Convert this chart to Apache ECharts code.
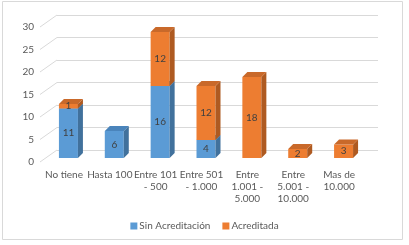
<!DOCTYPE html>
<html>
<head>
<meta charset="utf-8">
<script src="https://cdn.jsdelivr.net/npm/echarts@6/dist/echarts.min.js"></script>
<style>
  html, body { margin: 0; padding: 0; background: #fff; }
  #chart { width: 409px; height: 245px; }
</style>
</head>
<body>
<div id="chart"></div>
<script>
const categories = [
  "No tiene",
  "Hasta 100",
  "Entre 101\n- 500",
  "Entre 501\n- 1.000",
  "Entre\n1.001 -\n5.000",
  "Entre\n5.001 -\n10.000",
  "Mas de\n10.000",
];
const sinAcreditacion = [11, 6, 16, 4, 0, 0, 0];
const acreditada = [1, 0, 12, 12, 18, 2, 3];
const yTicks = [0, 5, 10, 15, 20, 25, 30];

const FONT = "Lato, 'Liberation Sans', sans-serif";
// 3d look: front face shifted left/down from the back wall
const DX = -21, W = 19, DY = 8, DEPTH = 5;

const barRenderer = (colors) => (params, api) => {
  const i = api.value(0);
  const base = api.value(1);
  const val = api.value(2);
  if (!val) return;
  const p0 = api.coord([i, base]);
  const p1 = api.coord([i, base + val]);
  const x0 = p0[0] + DX, x1 = x0 + W;
  const yb = p0[1] + DY, yt = p1[1] + DY;
  return {
    type: "group",
    children: [
      { type: "rect", shape: { x: x0, y: yt, width: W, height: yb - yt }, style: { fill: colors.front } },
      {
        type: "polygon",
        shape: { points: [[x1, yt], [x1 + DEPTH, yt - DEPTH], [x1 + DEPTH, yb - DEPTH], [x1, yb]] },
        style: { fill: colors.side },
      },
      {
        type: "polygon",
        shape: { points: [[x0, yt], [x1, yt], [x1 + DEPTH, yt - DEPTH], [x0 + DEPTH, yt - DEPTH]] },
        style: { fill: colors.top },
      },
      {
        type: "text",
        style: {
          text: String(val), x: (x0 + x1) / 2, y: (yt + yb) / 2,
          align: "center", verticalAlign: "middle", fill: "#404040", font: "10px " + FONT,
        },
      },
    ],
  };
};

const chart = echarts.init(document.getElementById("chart"));

chart.setOption({
  animation: false,
  graphic: [
    {
      type: "rect",
      shape: { x: 2.5, y: 1.5, width: 400, height: 238 },
      style: { fill: "none", stroke: "#d9d9d9", lineWidth: 1 },
      silent: true,
    },
  ],
  legend: {
    data: ["Sin Acreditación", "Acreditada"],
    top: 216,
    left: "center",
    icon: "rect",
    itemWidth: 7,
    itemHeight: 7,
    itemGap: 12,
    textStyle: { color: "#595959", fontSize: 10, fontFamily: FONT, padding: [0, 0, 0, -3] },
  },
  grid: [
    // back wall
    { left: 57, right: 31, top: 15, bottom: 95 },
    // front plane, only used for the value labels
    { left: 40, right: 48, top: 27, bottom: 83 },
  ],
  xAxis: [
    {
      type: "category",
      data: categories,
      boundaryGap: true,
      axisLine: { show: false },
      axisTick: { show: false },
      axisLabel: {
        interval: 0,
        margin: 19,
        color: "#595959",
        fontSize: 10,
        lineHeight: 12,
        fontFamily: FONT,
        padding: [0, 32, 0, 0],
      },
    },
    { type: "value", gridIndex: 1, show: false },
  ],
  yAxis: [
    {
      type: "value",
      min: 0,
      max: 30,
      interval: 5,
      axisLine: { show: false },
      axisTick: { show: false },
      axisLabel: { show: false },
      splitLine: { lineStyle: { color: "#d9d9d9", width: 1 } },
    },
    {
      type: "value",
      gridIndex: 1,
      min: 0,
      max: 30,
      interval: 5,
      axisLine: { show: false },
      axisTick: { show: false },
      splitLine: { show: false },
      axisLabel: {
        margin: 6,
        color: "#595959",
        fontSize: 10,
        fontFamily: FONT,
      },
    },
  ],
  series: [
    {
      name: "Sin Acreditación",
      type: "custom",
      color: "#5b9bd5",
      clip: false,
      encode: { x: 0, y: 1 },
      renderItem: barRenderer({ front: "#5b9bd5", side: "#41719c", top: "#4a84bb" }),
      data: sinAcreditacion.map((v, i) => [i, 0, v]),
    },
    {
      name: "Acreditada",
      type: "custom",
      color: "#ed7d31",
      clip: false,
      encode: { x: 0, y: 1 },
      renderItem: barRenderer({ front: "#ed7d31", side: "#ae5a21", top: "#c9692a" }),
      data: acreditada.map((v, i) => [i, sinAcreditacion[i], v]),
    },
    {
      // side wall edges
      name: "walls",
      type: "custom",
      silent: true,
      clip: false,
      encode: { x: 0, y: 1 },
      renderItem: (params, api) => {
        const p = api.coord([0, api.value(1)]);
        const left = p[0] - api.size([1, 0])[0] / 2;
        return {
          type: "line",
          shape: { x1: left - 17, y1: p[1] + 12, x2: left, y2: p[1] },
          style: { stroke: "#d9d9d9", lineWidth: 1 },
        };
      },
      data: yTicks.map((v) => [0, v]),
    },
  ],
});

window.addEventListener("resize", () => chart.resize());
</script>
</body>
</html>
